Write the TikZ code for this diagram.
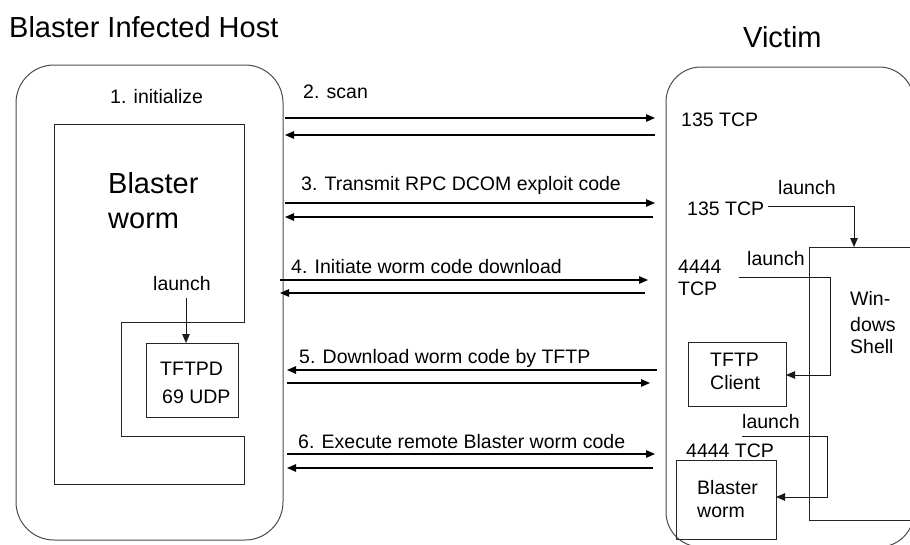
\documentclass[tikz,border=0pt]{standalone}
\usepackage{fontspec}
\setmainfont{Liberation Sans}
\usetikzlibrary{arrows.meta}
\begin{document}
\begin{tikzpicture}[x=1pt,y=-1pt,
  txt/.style={inner sep=0pt,anchor=base west,font=\fontsize{19.5}{22}\selectfont},
  big/.style={inner sep=0pt,anchor=base west,font=\fontsize{29}{34}\selectfont},
  frame/.style={draw=black!70,line width=1pt},
  box/.style={draw=black!85,line width=1pt},
  msg/.style={draw=black,line width=1.2pt,-{Triangle[length=9pt,width=7.5pt]}},
  wire/.style={draw=black!90,line width=1pt,-{Triangle[length=9pt,width=7.5pt]}},
  ]
\useasboundingbox (0,0) rectangle (910,544);
\begin{scope}
\clip (0,0) rectangle (910,544);
% titles
\node[big] (ttlhost) at (9,37) {Blaster Infected Host};
\node[big] (ttlvic) at (743,47) {Victim};
% host frame
\draw[frame,rounded corners=38pt] (16,65) rectangle (283,540);
\node[txt] (init) at (110,103) {1. initialize};
% worm shape
\draw[box] (54,124) -- (244,124) -- (244,322) -- (121,322) -- (121,436)
  -- (244,436) -- (244,484) -- (54,484) -- cycle;
\node[big] (bw1) at (108,193) {Blaster};
\node[big] (bw2) at (108,228) {worm};
\node[txt] (hlaunch) at (153,290) {launch};
\draw[box] (146,343) rectangle (238,417);
\coordinate (tftpdtop) at (186,343);
\coordinate (hlaunchbot) at (186,298);
\draw[wire] (hlaunchbot) -- (tftpdtop);
\node[txt] (tftpd1) at (160,375) {TFTPD};
\node[txt] (tftpd2) at (162,403) {69 UDP};
% victim frame
\draw[frame,rounded corners=35pt] (666,67) rectangle (914,547);
\draw[box] (809,247) rectangle (930,520);
\coordinate (shelltop) at (854,247);
\node[txt] (sh1) at (850,305) {Win-};
\node[txt] (sh2) at (850,331) {dows};
\node[txt] (sh3) at (850,353) {Shell};
\node[txt] (p1) at (681,126) {135 TCP};
\node[txt] (p2) at (687,215) {135 TCP};
\node[txt] (vl1) at (778,194) {launch};
\coordinate (p2e) at (768,206);
\draw[wire] (p2e) -- (854,206) -- (shelltop);
\node[txt] (p3a) at (678,273) {4444};
\node[txt] (p3b) at (678,295) {TCP};
\node[txt] (vl2) at (747,265) {launch};
\draw[box] (688,342) rectangle (786,406);
\coordinate (tftpcr) at (786,375);
\coordinate (vl2s) at (739,277);
\draw[wire] (vl2s) -- (830,277) -- (830,375) -- (tftpcr);
\node[txt] (tc1) at (710,366) {TFTP};
\node[txt] (tc2) at (710,389) {Client};
\node[txt] (vl3) at (742,428) {launch};
\node[txt] (p4) at (686,457) {4444 TCP};
\draw[box] (676,460) rectangle (776,539);
\coordinate (bwr) at (776,497);
\coordinate (vl3s) at (742,436);
\draw[wire] (vl3s) -- (827,436) -- (827,497) -- (bwr);
\node[txt] (vb1) at (697,494) {Blaster};
\node[txt] (vb2) at (697,517) {worm};
% messages
\node[txt] (m2) at (303,98) {2. scan};
\coordinate (h2a) at (285,118); \coordinate (v2a) at (655,118);
\coordinate (h2b) at (285,135); \coordinate (v2b) at (655,135);
\draw[msg] (h2a) -- (v2a);
\draw[msg] (v2b) -- (h2b);
\node[txt] (m3) at (301,190) {3. Transmit RPC DCOM exploit code};
\coordinate (h3a) at (285,203); \coordinate (v3a) at (655,203);
\coordinate (h3b) at (285,217); \coordinate (v3b) at (653,217);
\draw[msg] (h3a) -- (v3a);
\draw[msg] (v3b) -- (h3b);
\node[txt] (m4) at (291,273) {4. Initiate worm code download};
\coordinate (h4a) at (280,280); \coordinate (v4a) at (648,280);
\coordinate (h4b) at (280,293); \coordinate (v4b) at (645,293);
\draw[msg] (h4a) -- (v4a);
\draw[msg] (v4b) -- (h4b);
\node[txt] (m5) at (299,363) {5. Download worm code by TFTP};
\coordinate (h5a) at (287,370); \coordinate (v5a) at (657,370);
\coordinate (h5b) at (287,383); \coordinate (v5b) at (650,383);
\draw[msg] (v5a) -- (h5a);
\draw[msg] (h5b) -- (v5b);
\node[txt] (m6) at (298,448) {6. Execute remote Blaster worm code};
\coordinate (h6a) at (287,454); \coordinate (v6a) at (655,454);
\coordinate (h6b) at (287,468); \coordinate (v6b) at (653,468);
\draw[msg] (h6a) -- (v6a);
\draw[msg] (v6b) -- (h6b);
\end{scope}
\end{tikzpicture}
\end{document}
